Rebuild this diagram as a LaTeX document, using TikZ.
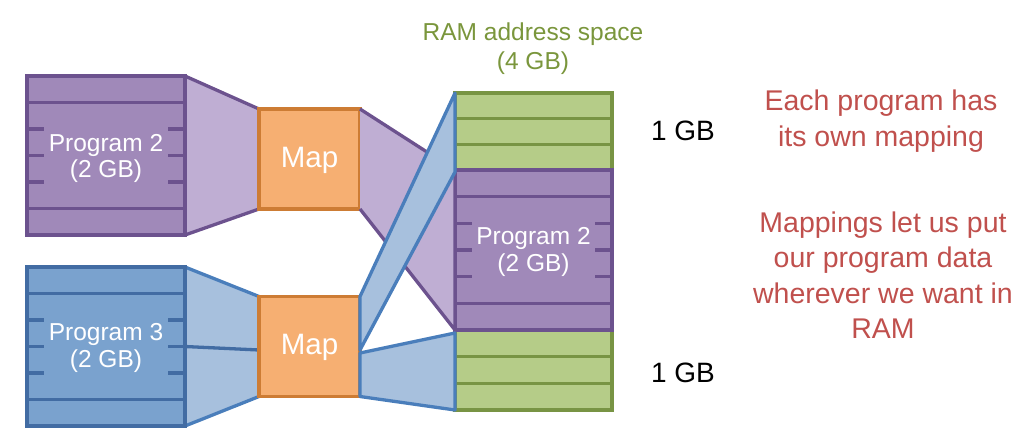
\documentclass[tikz,border=0pt]{standalone}
\usepackage{fontspec}
\setmainfont{Liberation Sans}
\usetikzlibrary{calc}
\definecolor{purpleF}{RGB}{160,137,185}
\definecolor{purpleD}{RGB}{108,82,142}
\definecolor{purpleL}{RGB}{191,174,211}
\definecolor{blueF}{RGB}{122,162,206}
\definecolor{blueD}{RGB}{66,108,163}
\definecolor{blueE}{RGB}{74,126,187}
\definecolor{blueL}{RGB}{167,192,221}
\definecolor{greenF}{RGB}{181,204,136}
\definecolor{greenD}{RGB}{120,148,68}
\definecolor{orangeF}{RGB}{246,175,114}
\definecolor{orangeD}{RGB}{205,124,52}
\definecolor{redT}{RGB}{192,80,77}
\definecolor{greenT}{RGB}{122,150,60}
\tikzset{
  lw/.style={line width=3.3pt},
  block/.style={lw, rectangle, inner sep=0pt, outer sep=0pt, text=white, align=center,
     font=\fontsize{24.5}{26.5}\selectfont},
  progP/.style={block, fill=purpleF, draw=purpleD, minimum width=158pt, minimum height=159pt},
  progB/.style={block, fill=blueF, draw=blueD, minimum width=158pt, minimum height=159pt},
  mapbox/.style={block, fill=orangeF, draw=orangeD, minimum width=101pt, minimum height=100pt,
     font=\fontsize{29.5}{30}\selectfont},
  ramg/.style={block, fill=greenF, draw=greenD, minimum width=157pt},
  ramp/.style={block, fill=purpleF, draw=purpleD, minimum width=157pt, minimum height=160pt},
  gblabel/.style={font=\fontsize{28}{30}\selectfont, text=black},
  note/.style={font=\fontsize{28.5}{35.5}\selectfont, text=redT, align=center},
}
\newcommand{\blockrows}[2]{%
  \foreach \k in {1,5} \draw[lw,#2] ($(#1.north west)!\k/6!(#1.south west)$) -- ($(#1.north east)!\k/6!(#1.south east)$);
  \foreach \k in {2,3,4} {
    \draw[lw,#2] ($(#1.north west)!\k/6!(#1.south west)$) -- ++(17,0);
    \draw[lw,#2] ($(#1.north east)!\k/6!(#1.south east)$) -- ++(-17,0);
  }}
\newcommand{\greenrows}[1]{%
  \foreach \k in {1,2} \draw[lw,greenD] ($(#1.north west)!\k/3!(#1.south west)$) -- ($(#1.north east)!\k/3!(#1.south east)$);}
\begin{document}
\begin{tikzpicture}[x=1pt,y=-1pt]
\useasboundingbox (0,0) rectangle (1032,441);

% boxes (positions)
\node[progP] (p2) at (106,155.5) {};
\node[progB] (p3) at (106,346.5) {};
\node[mapbox] (map1) at (309.5,159) {};
\node[mapbox] (map2) at (309.5,346.5) {};
\node[ramg, minimum height=77pt] (ramtop) at (533.5,131.5) {};
\node[ramp] (ramp2) at (533.5,250) {};
\node[ramg, minimum height=80pt] (rambot) at (533.5,370) {};

% trapezoids program -> map
\fill[purpleL] (p2.north east) -- (map1.north west) -- (map1.south west) -- (p2.south east) -- cycle;
\draw[lw,purpleD] (p2.north east) -- (map1.north west) (map1.south west) -- (p2.south east);
\fill[blueL] (p3.north east) -- (map2.north west) -- (map2.south west) -- (p3.south east) -- cycle;
\draw[lw,blueE] (p3.north east) -- (map2.north west) (map2.south west) -- (p3.south east);
\draw[lw,blueD] (p3.east) -- ($(map2.west)+(0,3.5)$);

% redraw boxes on top, with their texts
\node[progP] at (p2) {};
\blockrows{p2}{purpleD}
\node[text=white, align=center, font=\fontsize{24.5}{26.5}\selectfont] (p2t) at ($(p2)+(0,3)$) {Program 2\\(2 GB)};
\node[progB] at (p3) {};
\blockrows{p3}{blueD}
\node[text=white, align=center, font=\fontsize{24.5}{26.5}\selectfont] (p3t) at ($(p3)+(0,1.5)$) {Program 3\\(2 GB)};
\node[mapbox] at (map1) {};
\node[text=white, font=\fontsize{29.5}{30}\selectfont] (map1t) at ($(map1)+(0,1)$) {Map};
\node[mapbox] at (map2) {};
\node[text=white, font=\fontsize{29.5}{30}\selectfont] (map2t) at ($(map2)+(0,1)$) {Map};
\node[ramg, minimum height=77pt] at (ramtop) {};
\greenrows{ramtop}
\node[ramg, minimum height=80pt] at (rambot) {};
\greenrows{rambot}
\node[ramp] at (ramp2) {};
\blockrows{ramp2}{purpleD}
\node[text=white, align=center, font=\fontsize{24.5}{26.5}\selectfont] (r2t) at ($(ramp2)+(0,2)$) {Program 2\\(2 GB)};

% map1 -> RAM program 2
\fill[purpleL] (map1.north east) -- (ramp2.north west) -- (ramp2.south west) -- (map1.south east) -- cycle;
\draw[lw,purpleD,line join=round] (map1.north east) -- (ramp2.north west) -- (ramp2.south west) -- (map1.south east);

% map2 -> RAM top 1 GB
\coordinate (m2a) at ($(map2.east)+(0,3.5)$);
\coordinate (m2b) at ($(map2.east)+(0,6.5)$);
\filldraw[lw,blueE,fill=blueL,line join=round] (map2.north east) -- (ramtop.north west) -- ($(ramtop.south west)+(0,2)$) -- (m2a) -- cycle;
% map2 -> RAM bottom 1 GB
\filldraw[lw,blueE,fill=blueL,line join=round] (m2b) -- ($(rambot.north west)+(0,3)$) -- (rambot.south west) -- (map2.south east) -- cycle;

% labels
\node[font=\fontsize{24.5}{29}\selectfont, text=greenT, align=center] (ramlabel) at (533,49) {RAM address space\\(4 GB)};
\node[gblabel] (gb1) at (683,131) {1 GB};
\node[gblabel] (gb2) at (683,373) {1 GB};
\node[note] (note1) at (881,121) {Each program has\\its own mapping};
\node[note] (note2) at (883,275) {Mappings let us put\\our program data\\wherever we want in\\RAM};
\end{tikzpicture}
\end{document}
